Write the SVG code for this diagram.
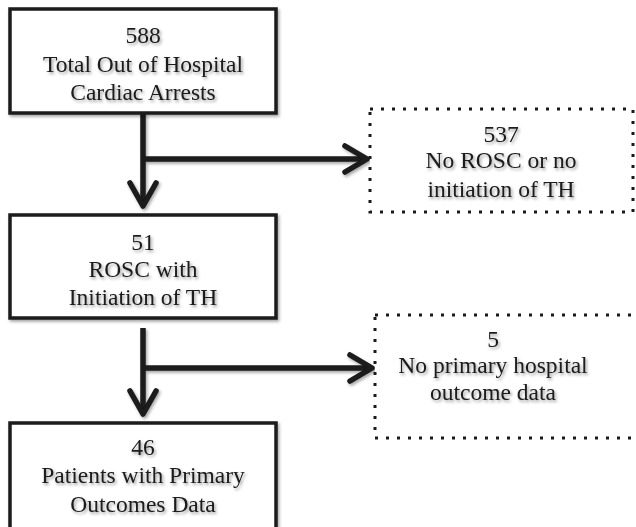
<svg xmlns="http://www.w3.org/2000/svg" width="636" height="527" viewBox="0 0 636 527">
  <defs>
    <filter id="sh" x="-10%" y="-10%" width="120%" height="130%">
      <feDropShadow dx="1.5" dy="2" stdDeviation="1.5" flood-color="#000" flood-opacity="0.35"/>
    </filter>
    <filter id="tsh" x="-10%" y="-20%" width="120%" height="150%">
      <feDropShadow dx="1.5" dy="2" stdDeviation="1.5" flood-color="#000" flood-opacity="0.4"/>
    </filter>
  </defs>
  <style>
    .box { fill: #fff; stroke: #1a1a1a; stroke-width: 3.5; }
    .dot { fill: #fff; stroke: #1a1a1a; stroke-width: 3; stroke-dasharray: 3 8; }
    .t { font-family: "Liberation Serif", "Times New Roman", serif; font-size: 23.5px; fill: #1a1a1a; text-anchor: middle; }
    .line { stroke: #1a1a1a; stroke-width: 5.5; fill: none; }
    .head { stroke: #1a1a1a; stroke-width: 5.5; fill: none; stroke-linecap: round; stroke-linejoin: round; }
  </style>
  <rect width="636" height="527" fill="#fff"/>

  <g id="connectors" filter="url(#sh)">
    <line class="line" x1="143" y1="113" x2="143" y2="206"/>
    <polyline class="head" points="130,183 143,206 156,183"/>
    <line class="line" x1="143" y1="159" x2="367" y2="159"/>
    <polyline class="head" points="345,146 367,159 345,172"/>
    <line class="line" x1="143" y1="328" x2="143" y2="414"/>
    <polyline class="head" points="130,391 143,414 156,391"/>
    <line class="line" x1="143" y1="368" x2="372" y2="368"/>
    <polyline class="head" points="350,355 372,368 350,381"/>
  </g>

  <g id="n588">
    <rect class="box" x="10" y="9" width="266" height="104" filter="url(#sh)"/>
    <g filter="url(#tsh)">
      <text class="t" x="143" y="43">588</text>
      <text class="t" x="143" y="72">Total Out of Hospital</text>
      <text class="t" x="143" y="100">Cardiac Arrests</text>
    </g>
  </g>

  <g id="n537">
    <rect class="dot" x="370" y="109" width="263" height="103"/>
    <g filter="url(#tsh)">
      <text class="t" x="501" y="142">537</text>
      <text class="t" x="501" y="168">No ROSC or no</text>
      <text class="t" x="501" y="197">initiation of TH</text>
    </g>
  </g>

  <g id="n51">
    <rect class="box" x="10" y="215" width="266" height="103" filter="url(#sh)"/>
    <g filter="url(#tsh)">
      <text class="t" x="143" y="250">51</text>
      <text class="t" x="143" y="277">ROSC with</text>
      <text class="t" x="143" y="305">Initiation of TH</text>
    </g>
  </g>

  <g id="n5">
    <rect class="dot" x="375" y="315" width="270" height="123"/>
    <g filter="url(#tsh)">
      <text class="t" x="493" y="347">5</text>
      <text class="t" x="493" y="373">No primary hospital</text>
      <text class="t" x="493" y="400">outcome data</text>
    </g>
  </g>

  <g id="n46">
    <rect class="box" x="10" y="423" width="266" height="110" filter="url(#sh)"/>
    <g filter="url(#tsh)">
      <text class="t" x="143" y="455">46</text>
      <text class="t" x="143" y="483">Patients with Primary</text>
      <text class="t" x="143" y="512">Outcomes Data</text>
    </g>
  </g>
</svg>
